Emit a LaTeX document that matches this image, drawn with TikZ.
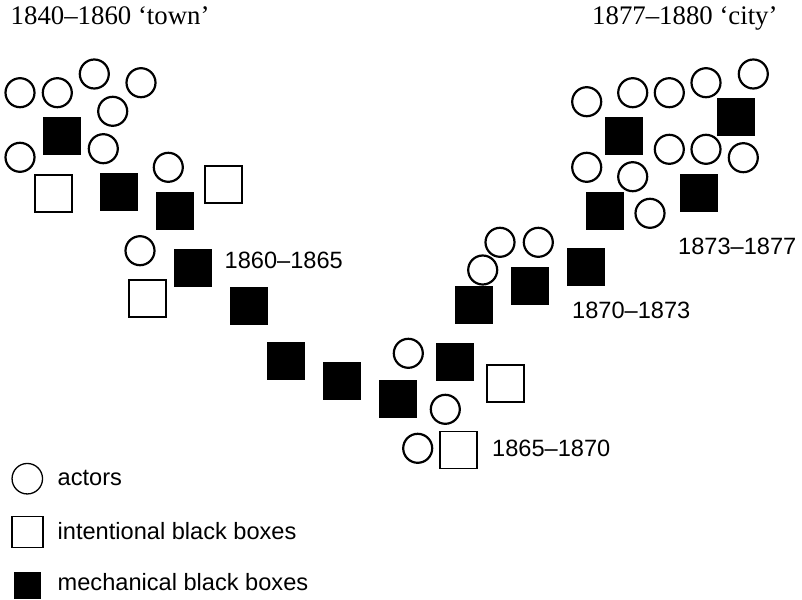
\documentclass[tikz,border=0pt]{standalone}
\usepackage{fontspec}
\setmainfont{Liberation Serif}
\newfontfamily\labelfont{Liberation Sans}
\begin{document}
\begin{tikzpicture}[x=1pt,y=-1pt,
  actor/.style={circle,draw=black,line width=2.2pt,minimum size=29pt,inner sep=0pt},
  ibox/.style={rectangle,draw=black,fill=white,line width=1.6pt,minimum size=37pt,inner sep=0pt},
  mbox/.style={rectangle,fill=black,minimum size=38pt,inner sep=0pt},
  lbl/.style={anchor=base west,inner sep=0pt,font=\labelfont\fontsize{23.6}{28}\selectfont},
  ttl/.style={anchor=base west,inner sep=0pt,font=\fontsize{26.8}{30}\selectfont}]
\useasboundingbox (0,0) rectangle (802,599);
% titles
\node[ttl] (t1) at (10.5,25) {1840–1860 ‘town’};
\node[ttl] (t2) at (592,25) {1877–1880 ‘city’};
% left cluster
\node[actor] (c1) at (20,92.7) {};
\node[actor] (c2) at (57.3,92.7) {};
\node[actor] (c3) at (94.3,74) {};
\node[actor] (c4) at (141,82.7) {};
\node[actor] (c5) at (112.7,111.3) {};
\node[actor] (c6) at (20,157.3) {};
\node[actor] (c7) at (103.3,148.7) {};
\node[actor] (c8) at (168.3,167.3) {};
\node[mbox] (m1) at (62.3,135.5) {};
\node[ibox] (i1) at (53.5,193.3) {};
\node[mbox] (m2) at (118.7,191.8) {};
\node[mbox] (m3) at (174.5,210.5) {};
\node[ibox] (i2) at (223.3,184.2) {};
% 1860-1865
\node[actor] (c9) at (140,250.7) {};
\node[mbox] (m4) at (193.2,267.5) {};
\node[ibox] (i3) at (147.5,298.5) {};
\node[mbox] (m5) at (249,305.5) {};
\node[mbox] (m6) at (286.2,361.3) {};
\node[mbox] (m7) at (342.3,380.5) {};
\node[lbl] (l1) at (224.5,268.3) {1860–1865};
% 1865-1870
\node[actor] (c10) at (408.3,353.3) {};
\node[mbox] (m8) at (455,361.7) {};
\node[ibox] (i4) at (505.2,383.2) {};
\node[mbox] (m9) at (398.2,399.2) {};
\node[actor] (c11) at (445.3,409.3) {};
\node[actor] (c12) at (417.7,448.3) {};
\node[ibox] (i5) at (458.5,449.8) {};
\node[lbl] (l2) at (492,456) {1865–1870};
% 1870-1873
\node[actor] (c13) at (500,242.3) {};
\node[actor] (c14) at (538.3,242.3) {};
\node[actor] (c15) at (482.7,270) {};
\node[mbox] (m10) at (473.7,305.3) {};
\node[mbox] (m11) at (530.2,286.2) {};
\node[mbox] (m12) at (585.7,267.2) {};
\node[lbl] (l3) at (572,318.3) {1870–1873};
% right cluster
\node[actor] (c16) at (586.7,101.7) {};
\node[actor] (c17) at (632.7,92.7) {};
\node[actor] (c18) at (669.3,92.7) {};
\node[actor] (c19) at (706,82.7) {};
\node[actor] (c20) at (753.3,74) {};
\node[mbox] (m13) at (623.8,136.2) {};
\node[mbox] (m14) at (736.3,117.2) {};
\node[actor] (c21) at (669.3,149.3) {};
\node[actor] (c22) at (706,149.3) {};
\node[actor] (c23) at (743.3,157.7) {};
\node[actor] (c24) at (586.7,167.3) {};
\node[actor] (c25) at (632.7,176.7) {};
\node[mbox] (m15) at (698.7,192.5) {};
\node[mbox] (m16) at (605,210.8) {};
\node[actor] (c26) at (650,213.3) {};
\node[lbl] (l4) at (678,254.3) {1873–1877};
% legend
\node[actor,minimum size=30.5pt,line width=1.3pt] (la) at (27.3,478.7) {};
\node[ibox,minimum size=31pt,line width=1.3pt] (li) at (27.5,532.2) {};
\node[mbox,minimum size=27pt] (lm) at (27.5,585.7) {};
\node[lbl] (ta) at (57.5,485) {actors};
\node[lbl] (ti) at (57.5,539.3) {intentional black boxes};
\node[lbl] (tm) at (57.5,590.7) {mechanical black boxes};
\end{tikzpicture}
\end{document}
